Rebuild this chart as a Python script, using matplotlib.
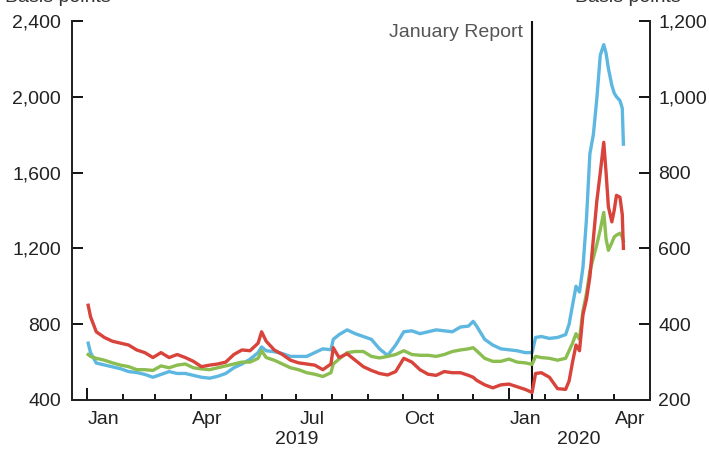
import matplotlib
matplotlib.use('Agg')
import matplotlib.pyplot as plt
import pandas as pd

plt.rcParams['font.family'] = ['Liberation Sans', 'DejaVu Sans']

dates = pd.to_datetime([
    '2019-01-02', '2019-01-04', '2019-01-09', '2019-01-16', '2019-01-23', '2019-01-30',
    '2019-02-06', '2019-02-13', '2019-02-20', '2019-02-27', '2019-03-06', '2019-03-13',
    '2019-03-20', '2019-03-27', '2019-04-03', '2019-04-10', '2019-04-17', '2019-04-24',
    '2019-05-01', '2019-05-08', '2019-05-15', '2019-05-22', '2019-05-29', '2019-06-01',
    '2019-06-05', '2019-06-12', '2019-06-19', '2019-06-26', '2019-07-03', '2019-07-10',
    '2019-07-17', '2019-07-24', '2019-07-31', '2019-08-02', '2019-08-07', '2019-08-14',
    '2019-08-21', '2019-08-28', '2019-09-04', '2019-09-11', '2019-09-18', '2019-09-25',
    '2019-10-02', '2019-10-09', '2019-10-16', '2019-10-23', '2019-10-30', '2019-11-06',
    '2019-11-13', '2019-11-20', '2019-11-27', '2019-12-01', '2019-12-04', '2019-12-11',
    '2019-12-18', '2019-12-25', '2020-01-01', '2020-01-08', '2020-01-15', '2020-01-21',
    '2020-01-24', '2020-01-29', '2020-02-05', '2020-02-12', '2020-02-19', '2020-02-22',
    '2020-02-25', '2020-02-28', '2020-03-02', '2020-03-05', '2020-03-08', '2020-03-11',
    '2020-03-14', '2020-03-17', '2020-03-20', '2020-03-23', '2020-03-25', '2020-03-27',
    '2020-03-30', '2020-04-01', '2020-04-03', '2020-04-06', '2020-04-08', '2020-04-09',
])

# left axis
blue = [700, 650, 595, 585, 575, 565, 550, 545, 535, 520, 535, 550,
        540, 540, 530, 520, 515, 525, 540, 570, 590, 615, 650, 680,
        660, 655, 645, 630, 630, 630, 650, 670, 665, 720, 745, 770,
        750, 735, 720, 670, 635, 690, 760, 765, 750, 760, 770, 765,
        760, 785, 790, 815, 790, 720, 690, 670, 665, 660, 650, 650,
        730, 735, 725, 730, 745, 800, 900, 1000, 970, 1100, 1350, 1700,
        1800, 1990, 2220, 2275, 2230, 2150, 2060, 2020, 2000, 1980, 1940, 1750]

# right axis
red = [450, 420, 380, 365, 355, 350, 345, 332, 325, 312, 325, 312,
       320, 312, 302, 288, 292, 295, 300, 320, 332, 330, 350, 380,
       355, 332, 320, 305, 298, 295, 292, 280, 295, 338, 312, 322,
       305, 288, 278, 270, 266, 275, 310, 300, 280, 268, 265, 275,
       272, 272, 265, 260, 252, 240, 232, 240, 242, 235, 228, 220,
       270, 272, 260, 230, 228, 250, 300, 345, 330, 425, 465, 525,
       625, 725, 800, 880, 800, 710, 670, 700, 740, 735, 690, 600]

green = [320, 315, 310, 305, 298, 292, 288, 280, 280, 278, 290, 285,
         292, 295, 285, 282, 280, 285, 290, 295, 300, 300, 310, 330,
         312, 305, 295, 285, 280, 272, 268, 262, 272, 295, 308, 325,
         328, 328, 315, 311, 315, 320, 330, 320, 318, 318, 315, 320,
         328, 332, 335, 338, 330, 310, 302, 302, 308, 300, 298, 294,
         315, 312, 310, 305, 310, 330, 350, 375, 360, 435, 480, 540,
         575, 610, 650, 695, 625, 595, 615, 630, 635, 640, 630, 620]

left_ticks = [400, 800, 1200, 1600, 2000, 2400]
right_ticks = [200, 400, 600, 800, 1000, 1200]
report_date = pd.Timestamp('2020-01-21')

fig = plt.figure(figsize=(7.09, 4.5), dpi=100)
ax = fig.add_axes([72 / 709, 50 / 450, 578 / 709, 379 / 450])
ax2 = ax.twinx()

ax.plot(dates, blue, color='#5db7e0', lw=2.4, zorder=3)
ax2.plot(dates, green, color='#8bbd50', lw=2.4, zorder=3)
ax2.plot(dates, red, color='#d8433b', lw=2.4, zorder=4)

ax.set_xlim(pd.Timestamp('2018-12-19'), pd.Timestamp('2020-05-02'))
ax.set_ylim(400, 2400)
ax2.set_ylim(200, 1200)
ax.set_yticks(left_ticks)
ax.set_yticklabels([f'{v:,}' for v in left_ticks])
ax2.set_yticks(right_ticks)
ax2.set_yticklabels([f'{v:,}' for v in right_ticks])

for a in (ax, ax2):
    a.spines['top'].set_visible(False)
    for s in a.spines.values():
        s.set_linewidth(1.3)
        s.set_color('#222222')

fs = 14
ax.tick_params(axis='y', direction='in', length=8, width=1.3, pad=8,
               labelsize=fs, labelcolor='#222222')
ax2.tick_params(axis='y', direction='in', length=8, width=1.3, pad=6,
                labelsize=fs, labelcolor='#222222')

# month ticks, year ticks longer
month_starts = pd.date_range('2019-01-01', '2020-04-01', freq='MS')
ax.set_xticks(month_starts)
ax.set_xticklabels([])
ax.tick_params(axis='x', which='major', direction='in', length=4, width=1.3)
for t, d in zip(ax.xaxis.get_major_ticks(), month_starts):
    if d.month == 1:
        t.tick1line.set_markersize(9)

label_dates = pd.to_datetime(['2019-01-15', '2019-04-15', '2019-07-15', '2019-10-15',
                              '2020-01-15', '2020-04-15'])
ax.set_xticks(label_dates, minor=True)
ax.set_xticklabels([d.strftime('%b') for d in label_dates], minor=True)
ax.tick_params(axis='x', which='minor', length=0, pad=8, labelsize=fs,
               labelcolor='#222222')

for yr, pos in [('2019', '2019-07-01'), ('2020', '2020-03-01')]:
    ax.text(pd.Timestamp(pos), -0.083, yr, transform=ax.get_xaxis_transform(),
            ha='center', va='top', fontsize=fs, color='#222222')

ax.axvline(report_date, color='#111111', lw=1.5, zorder=5)
ax.text(pd.Timestamp('2020-01-13'), 0.97, 'January Report', transform=ax.get_xaxis_transform(),
        ha='right', va='center', fontsize=fs, color='#555555')

# axis unit labels, mostly cropped off at the top edge as in the original
fig.text(5 / 709, 1 - 1.5 / 450, 'Basis points', ha='left', va='baseline', fontsize=fs, color='#333333')
fig.text(575 / 709, 1 - 1.5 / 450, 'Basis points', ha='left', va='baseline', fontsize=fs, color='#333333')

fig.savefig('out.png', dpi=100)
